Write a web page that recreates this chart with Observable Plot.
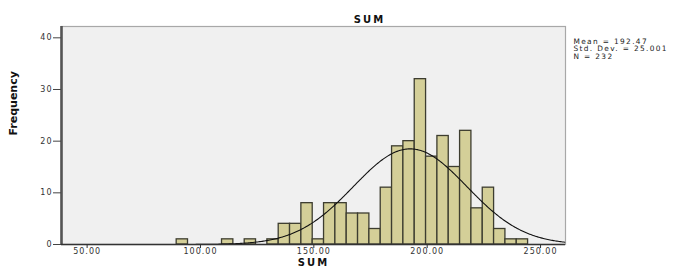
<!DOCTYPE html>
<html><head><meta charset="utf-8">
<script src="https://cdn.jsdelivr.net/npm/d3@7"></script>
<script src="https://cdn.jsdelivr.net/npm/@observablehq/plot@0.6"></script>
<style>
body{margin:0;background:#fff}
#chart svg{display:block}
#chart svg text{font-family:"DejaVu Sans","Liberation Sans",Arial,sans-serif}
</style></head><body><div id="chart"></div>
<script>
// Histogram bins (lower edges) and frequencies
const binStarts = [89.5,109.5,119.5,129.5,134.5,139.5,144.5,149.5,154.5,159.5,164.5,169.5,174.5,179.5,184.5,189.5,194.5,199.5,204.5,209.5,214.5,219.5,224.5,229.5,234.5,239.5];
const counts    = [1,1,1,1,4,4,8,1,8,8,6,6,3,11,19,20,32,17,21,15,22,7,11,3,1,1];
const binWidth = 5;
const xTicks = [50,100,150,200,250];
const yTicks = [0,10,20,30,40];
const statLabels = ["Mean = 192.47","Std. Dev. = 25.001","N = 232"];
const statMean = 192.47, statSD = 25.001, statN = 232;
const titleText = "SUM", xLabel = "SUM", yLabel = "Frequency";

const xDomain = [38.7, 261];
const yDomain = [0, 42.19];

const bars = binStarts.map((b,i)=>({x1:b, x2:b+binWidth, y:counts[i]}));
// fitted normal curve from the stated mean / sd / N
const curve = d3.range(xDomain[0], xDomain[1]+0.01, 0.5).map(x=>({
  x, y: statN*binWidth/(statSD*Math.sqrt(2*Math.PI))*Math.exp(-0.5*((x-statMean)/statSD)**2)
}));

const plot = Plot.plot({
  width:681, height:267,
  marginLeft:61, marginRight:116, marginTop:26, marginBottom:23,
  x:{domain:xDomain}, y:{domain:yDomain},
  style:{fontSize:"8px", color:"#333", background:"#fff"},
  marks:[
    Plot.frame({fill:"#f0f0f0", stroke:"#a8a8a8", strokeWidth:1.2}),
    Plot.rectY(bars, {x1:"x1", x2:"x2", y:"y", fill:"#d4cf98", stroke:"#3d3d30", strokeWidth:1.3}),
    Plot.line(curve, {x:"x", y:"y", stroke:"#111", strokeWidth:1.1}),
    Plot.ruleX([xDomain[0]], {stroke:"#555", strokeWidth:2.6}),
    Plot.ruleY([0], {stroke:"#333", strokeWidth:1.4}),
    Plot.axisX({ticks:xTicks, tickFormat:d=>d.toFixed(2), tickSize:4, tickPadding:0, label:null, stroke:"#333", fill:"#333", fontSize:8}),
    Plot.axisY({ticks:yTicks, tickFormat:d=>String(d), tickSize:8, tickPadding:1, label:null, stroke:"#444", fill:"#333", fontSize:8}),
    Plot.text([titleText], {frameAnchor:"top", dx:56, dy:-3.5, lineAnchor:"bottom", fontWeight:"bold", fontSize:10, fill:"#111"}),
    Plot.text([xLabel], {frameAnchor:"bottom", dx:0, dy:21.5, lineAnchor:"bottom", fontWeight:"bold", fontSize:10, fill:"#111"}),
    Plot.text([yLabel], {frameAnchor:"left", dx:-48, dy:0, rotate:-90, fontWeight:"bold", fontSize:11, fill:"#111", fontFamily:"'Liberation Sans Narrow','DejaVu Sans Condensed',sans-serif"}),
    Plot.text([statLabels.join("\n")], {frameAnchor:"top-right", dx:8, dy:11.5, textAnchor:"start", lineAnchor:"top", lineHeight:1.05, fontSize:7.4, fill:"#222"})
  ]
});
document.getElementById("chart").append(plot);
// emulate the horizontally stretched SPSS lettering
d3.select(plot).selectAll("text").each(function(){
  const t = this.textContent;
  const s = d3.select(this);
  if (t === yLabel) return;
  if (t === titleText || t === xLabel) s.style("letter-spacing","2px");
  else s.style("letter-spacing","1px");
});
d3.select(plot).selectAll("tspan").style("letter-spacing","1.35px");
</script></body></html>
